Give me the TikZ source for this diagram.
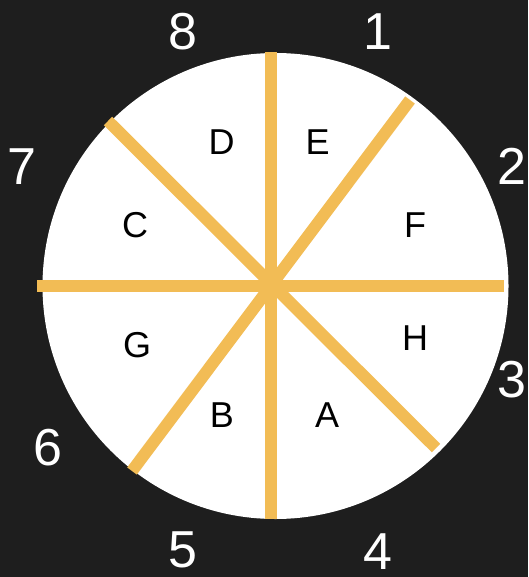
\documentclass[tikz,border=0pt]{standalone}
\usepackage{fontspec}
\setmainfont{Liberation Sans}
\definecolor{bg}{HTML}{1E1E1E}
\definecolor{spoke}{HTML}{F2BC55}
\begin{document}
\begin{tikzpicture}[x=1pt,y=-1pt,
  num/.style={text=white,inner sep=0pt,font=\fontsize{52}{52}\selectfont},
  let/.style={text=black,inner sep=0pt,font=\fontsize{36}{36}\selectfont},
  spokeline/.style={draw=spoke,line width=12pt,line cap=butt}]
\fill[bg] (0,0) rectangle (528,577);
\useasboundingbox (0,0) rectangle (528,577);
\fill[white] (275.5,286) circle (233);
% spoke end points
\coordinate (c) at (271,286);
\coordinate (n) at (271,52);
\coordinate (s) at (271,519);
\coordinate (w) at (37,286);
\coordinate (e) at (504,286);
\coordinate (ne) at (410,100);
\coordinate (sw) at (132,471);
\coordinate (nw) at (108,121);
\coordinate (se) at (436,448);
\draw[spokeline] (n) -- (s);
\draw[spokeline] (w) -- (e);
\draw[spokeline] (ne) -- (sw);
\draw[spokeline] (nw) -- (se);
% numbers
\node[num] (n8) at (183,32) {8};
\node[num] (n1) at (378,32) {1};
\node[num] (n2) at (511.5,166.5) {2};
\node[num] (n7) at (22,166.5) {7};
\node[num] (n3) at (512,380) {3};
\node[num] (n6) at (48,448) {6};
\node[num] (n5) at (183,550) {5};
\node[num] (n4) at (378,552) {4};
% letters
\node[let] (lD) at (221.7,142.5) {D};
\node[let] (lE) at (317.7,142.5) {E};
\node[let] (lC) at (135,225) {C};
\node[let] (lF) at (415,225) {F};
\node[let] (lG) at (137,345) {G};
\node[let] (lH) at (415,338) {H};
\node[let] (lB) at (222,415) {B};
\node[let] (lA) at (327,415) {A};
\end{tikzpicture}
\end{document}
